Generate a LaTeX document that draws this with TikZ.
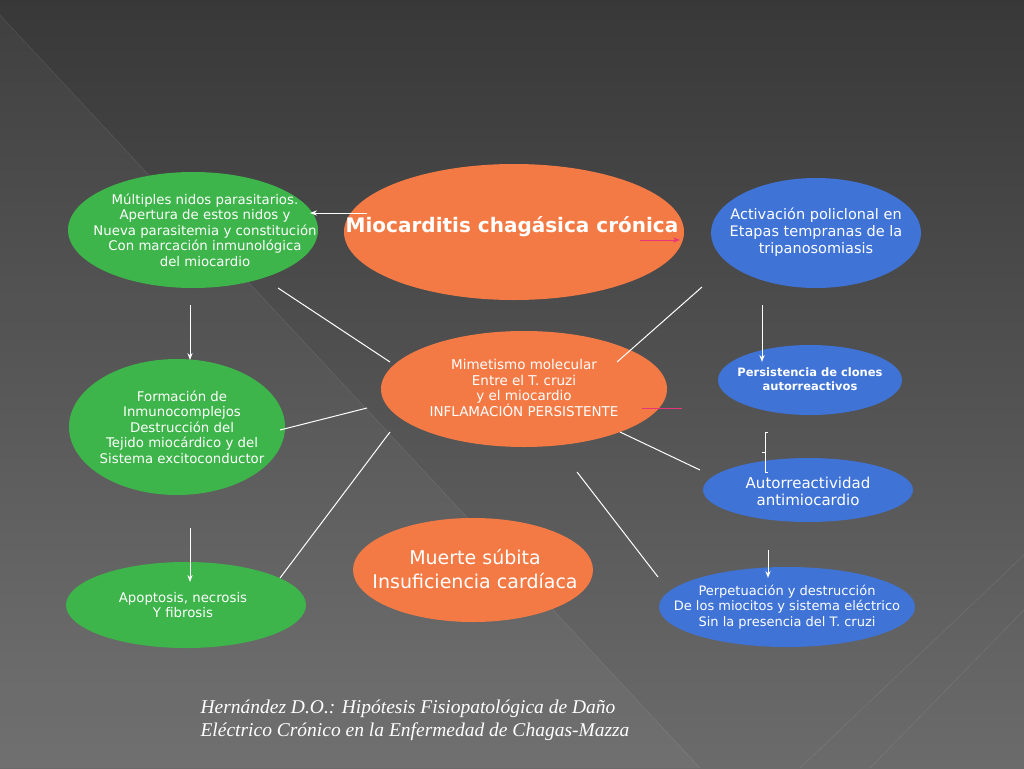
\documentclass[tikz,border=0pt]{standalone}
\usepackage{fontspec}
\setsansfont{DejaVu Sans}
\setmainfont{Liberation Serif}
\usetikzlibrary{arrows.meta}
\definecolor{grn}{HTML}{3DB54A}
\definecolor{org}{HTML}{F47A45}
\definecolor{blu}{HTML}{3F73D6}
\definecolor{pnk}{HTML}{E8357A}
\tikzset{
	bub/.style={inner sep=0pt,align=center,text=white,font=\sffamily\fontsize{13.3}{15.5}\selectfont},
	link/.style={white,line width=1pt},
	arr/.style={white,line width=1pt,-{Stealth[length=7pt,open]}}
}
\begin{document}
\begin{tikzpicture}[x=1pt,y=-1pt]
	\useasboundingbox (0,0) rectangle (1024,768);
	\shade[top color=black!78,bottom color=black!58] (0,0) rectangle (1024,768);
	\fill[white,opacity=0.04] (0,15) -- (700,768) -- (0,768) -- cycle;
	\draw[white,opacity=0.12] (0,15) -- (700,768);
	\draw[white,opacity=0.12] (1024,555) -- (800,768);
	\draw[white,opacity=0.12] (1024,610) -- (870,768);
	% ellipses
	\fill[grn] (193,230) ellipse (125 and 58);
	\fill[org] (514,232) ellipse (170 and 68);
	\fill[blu] (816,233) ellipse (105 and 55);
	\fill[grn] (177,427) ellipse (108 and 68);
	\fill[org] (524,389) ellipse (143 and 58);
	\fill[blu] (810,380) ellipse (92 and 35);
	\fill[blu] (808,490) ellipse (105 and 32);
	\fill[grn] (186,605) ellipse (120 and 43);
	\fill[org] (473,570) ellipse (120 and 52);
	\fill[blu] (787,607) ellipse (128 and 40);
	% texts
	\node[bub] (nidos) at (205,230) {Múltiples nidos parasitarios.\\Apertura de estos nidos y\\Nueva parasitemia y constitución\\Con marcación inmunológica\\del miocardio};
	\node[bub,font=\sffamily\bfseries\fontsize{20}{24}\selectfont] (mio) at (512,227) {Miocarditis chagásica crónica};
	\node[bub,font=\sffamily\fontsize{14.5}{17}\selectfont] (activ) at (816,232) {Activación policlonal en\\Etapas tempranas de la\\tripanosomiasis};
	\node[bub] (inmuno) at (182,427) {Formación de\\Inmunocomplejos\\Destrucción del\\Tejido miocárdico y del\\Sistema excitoconductor};
	\node[bub,font=\sffamily\fontsize{13.5}{15.5}\selectfont] (mimet) at (524,388) {Mimetismo molecular\\Entre el T. cruzi\\y el miocardio\\INFLAMACIÓN PERSISTENTE};
	\node[bub,font=\sffamily\bfseries\fontsize{11.5}{14}\selectfont] (clones) at (810,379) {Persistencia de clones\\autorreactivos};
	\node[bub,font=\sffamily\fontsize{15}{17}\selectfont] (autor) at (808,491) {Autorreactividad\\antimiocardio};
	\node[bub] (apop) at (183,605) {Apoptosis, necrosis\\Y fibrosis};
	\node[bub,font=\sffamily\fontsize{19}{24}\selectfont] (muerte) at (475,569) {Muerte súbita\\Insuficiencia cardíaca};
	\node[bub,font=\sffamily\fontsize{13}{15.5}\selectfont] (perpet) at (787,607) {Perpetuación y destrucción\\De los miocitos y sistema eléctrico\\Sin la presencia del T. cruzi};
	% connectors
	\coordinate (m1) at (390,362); \coordinate (g1) at (278,288);
	\coordinate (m2) at (367,408); \coordinate (g2) at (280,430);
	\coordinate (m3) at (390,432); \coordinate (g3) at (280,578);
	\coordinate (m4) at (617,362); \coordinate (b1) at (702,287);
	\coordinate (m5) at (620,432); \coordinate (b3) at (700,470);
	\coordinate (m6) at (577,472); \coordinate (b4) at (658,577);
	\draw[link] (m1) -- (g1);
	\draw[link] (m2) -- (g2);
	\draw[link] (m3) -- (g3);
	\draw[link] (m4) -- (b1);
	\draw[link] (m5) -- (b3);
	\draw[link] (m6) -- (b4);
	\coordinate (t1) at (367,213); \coordinate (t2) at (310,213);
	\draw[arr] (t1) -- (t2);
	\coordinate (a1) at (190,305); \coordinate (a2) at (190,360);
	\draw[arr] (a1) -- (a2);
	\coordinate (a3) at (190,528); \coordinate (a4) at (190,582);
	\draw[arr] (a3) -- (a4);
	\coordinate (a5) at (762,305); \coordinate (a6) at (762,362);
	\draw[arr] (a5) -- (a6);
	\coordinate (a7) at (768,550); \coordinate (a8) at (768,578);
	\draw[arr] (a7) -- (a8);
	\coordinate (p1) at (640,240); \coordinate (p2) at (680,240);
	\draw[pnk,line width=1pt,-{Stealth[length=7pt,open]}] (p1) -- (p2);
	\coordinate (p3) at (642,408); \coordinate (p4) at (682,408);
	\draw[pnk,line width=1pt] (p3) -- (p4);
	\draw[white,line width=0.6pt] (768,432) -- (765,432) -- (765,472) -- (768,472) (765,452) -- (762,452);
	% reference
	\node[anchor=north west,align=left,text=white,font=\itshape\fontsize{19.5}{23}\selectfont] (ref) at (197,696) {Hernández D.O.: Hipótesis Fisiopatológica de Daño\\Eléctrico Crónico en la Enfermedad de Chagas-Mazza};
\end{tikzpicture}
\end{document}
